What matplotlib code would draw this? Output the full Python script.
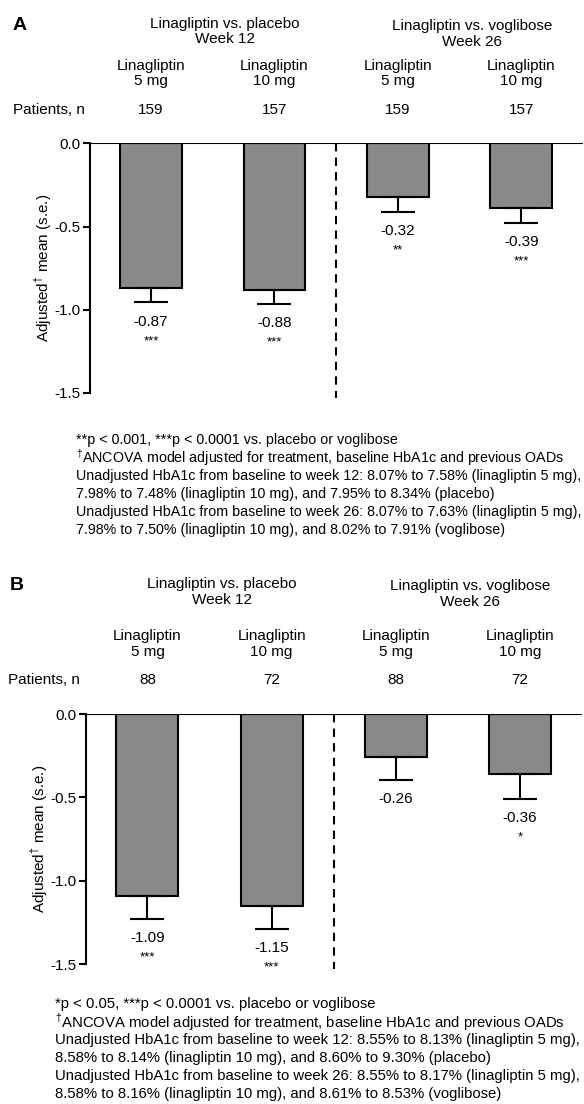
import matplotlib
matplotlib.use('Agg')
import matplotlib.pyplot as plt

plt.rcParams['font.family'] = ['Liberation Sans', 'DejaVu Sans']
plt.rcParams['mathtext.fontset'] = 'custom'
plt.rcParams['mathtext.rm'] = 'Liberation Sans'
plt.rcParams['axes.unicode_minus'] = False

groups = ['Linagliptin vs. placebo\nWeek 12', 'Linagliptin vs. voglibose\nWeek 26']
arms = ['Linagliptin\n5 mg', 'Linagliptin\n10 mg', 'Linagliptin\n5 mg', 'Linagliptin\n10 mg']
yticks = [0.0, -0.5, -1.0, -1.5]

patients_a = [159, 157, 159, 157]
means_a = [-0.87, -0.88, -0.32, -0.39]
se_a = [0.085, 0.083, 0.09, 0.086]
stars_a = ['***', '***', '**', '***']
notes_a = [
    '**p < 0.001, ***p < 0.0001 vs. placebo or voglibose',
    r'$^{\mathrm{†}}$ANCOVA model adjusted for treatment, baseline HbA1c and previous OADs',
    'Unadjusted HbA1c from baseline to week 12: 8.07% to 7.58% (linagliptin 5 mg),',
    '7.98% to 7.48% (linagliptin 10 mg), and 7.95% to 8.34% (placebo)',
    'Unadjusted HbA1c from baseline to week 26: 8.07% to 7.63% (linagliptin 5 mg),',
    '7.98% to 7.50% (linagliptin 10 mg), and 8.02% to 7.91% (voglibose)',
]

patients_b = [88, 72, 88, 72]
means_b = [-1.09, -1.15, -0.26, -0.36]
se_b = [0.14, 0.14, 0.136, 0.15]
stars_b = ['***', '***', '', '*']
notes_b = [
    '*p < 0.05, ***p < 0.0001 vs. placebo or voglibose',
    r'$^{\mathrm{†}}$ANCOVA model adjusted for treatment, baseline HbA1c and previous OADs',
    'Unadjusted HbA1c from baseline to week 12: 8.55% to 8.13% (linagliptin 5 mg),',
    '8.58% to 8.14% (linagliptin 10 mg), and 8.60% to 9.30% (placebo)',
    'Unadjusted HbA1c from baseline to week 26: 8.55% to 8.17% (linagliptin 5 mg),',
    '8.58% to 8.16% (linagliptin 10 mg), and 8.61% to 8.53% (voglibose)',
]

H = 1104
fig = plt.figure(figsize=(5.84, 11.04), dpi=100)


def panel(letter, rect, patients, means, se, stars, notes, top, head, letter_x, pat_x,
          note_x, note_y, note_size):
    # top = pixel y (from top) of the zero line; head = offsets above it
    ax = fig.add_axes(rect)
    x = range(len(means))
    ax.bar(x, means, width=0.5, color='#898989', edgecolor='black', linewidth=1.5, zorder=2)
    ax.errorbar(x, means, yerr=[se, [0] * len(se)], fmt='none', ecolor='black',
                elinewidth=1.5, capsize=12, capthick=1.5, zorder=3)
    for i in x:
        lo = means[i] - se[i]
        ax.annotate(f'{means[i]:.2f}', (i, lo), xytext=(0, -14), textcoords='offset points',
                    ha='center', va='center', fontsize=11)
        if stars[i]:
            ax.annotate(stars[i], (i, lo), xytext=(0, -28), textcoords='offset points',
                        ha='center', va='center', fontsize=9.5)
    ax.axhline(0, color='black', lw=1.5, zorder=4)
    ax.plot([1.5, 1.5], [0, -1.53], color='black', lw=1.5, ls=(0, (4, 3)), clip_on=False)
    ax.set_xlim(-0.495, 3.5)
    ax.set_ylim(-1.5, 0)
    ax.set_yticks(yticks)
    ax.set_yticklabels([f'{t:.1f}' for t in yticks])
    ax.tick_params(axis='y', length=5, width=1.5, labelsize=11, pad=2)
    ax.set_xticks([])
    for s in ['top', 'right', 'bottom']:
        ax.spines[s].set_visible(False)
    ax.spines['left'].set_linewidth(1.5)
    ax.set_ylabel(r'Adjusted$^{\mathrm{†}}$ mean (s.e.)', fontsize=11, labelpad=0)

    # headers
    fig.text(letter_x / 584, 1 - (top - head[0]) / H, letter, fontsize=14, fontweight='bold',
             va='center')
    ax.annotate(groups[0], (0.6, H - (top - head[1])), xycoords=('data', 'figure pixels'),
                ha='center', va='center', fontsize=11, linespacing=1.1)
    ax.annotate(groups[1], (2.6, H - (top - head[2])), xycoords=('data', 'figure pixels'),
                ha='center', va='center', fontsize=11, linespacing=1.1)
    for i in x:
        ax.annotate(arms[i], (i, H - (top - 70)), xycoords=('data', 'figure pixels'),
                    ha='center', va='center', fontsize=11, linespacing=1.1)
        ax.annotate(str(patients[i]), (i, H - (top - 34)), xycoords=('data', 'figure pixels'),
                    ha='center', va='center', fontsize=11)
    fig.text(pat_x / 584, 1 - (top - 34) / H, 'Patients, n', fontsize=11, va='center')

    for k, line in enumerate(notes):
        fig.text(note_x / 584, 1 - (note_y + 18 * k) / H, line, fontsize=note_size, va='center')


panel('A', [90 / 584, 1 - 393 / H, 493 / 584, 249.5 / H], patients_a, means_a, se_a, stars_a,
      notes_a, 143.5, (118, 112, 109.5), 13, 13, 76, 440, 10.3)
panel('B', [86 / 584, 1 - 964 / H, 496 / 584, 250 / H], patients_b, means_b, se_b, stars_b,
      notes_b, 714, (129, 122, 120), 10, 8, 55, 1004, 10.7)

fig.savefig('out.png', dpi=100)
